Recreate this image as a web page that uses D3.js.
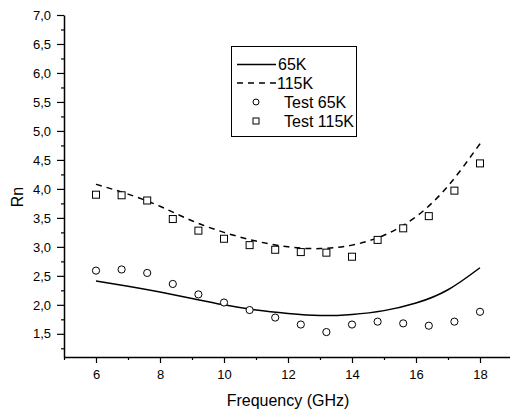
<!DOCTYPE html>
<html>
<head>
<meta charset="utf-8">
<script src="https://cdn.jsdelivr.net/npm/d3@7"></script>
<style>
  body { margin: 0; background: #fff; }
  svg { font-family: "Liberation Sans", Arial, sans-serif; }
</style>
</head>
<body>
<svg width="510" height="412"></svg>
<script>
// Measured test points (every 0.8 GHz)
var testFreq = [6, 6.8, 7.6, 8.4, 9.2, 10, 10.8, 11.6, 12.4, 13.2, 14, 14.8, 15.6, 16.4, 17.2, 18];
var test65K  = [2.59, 2.61, 2.55, 2.36, 2.18, 2.04, 1.91, 1.78, 1.66, 1.53, 1.66, 1.71, 1.68, 1.64, 1.71, 1.88];
var test115K = [3.90, 3.89, 3.80, 3.48, 3.28, 3.14, 3.03, 2.95, 2.91, 2.90, 2.83, 3.12, 3.32, 3.53, 3.97, 4.44];

// Model curves
var modelFreq = [6, 7, 8, 9, 10, 11, 12, 13, 14, 15, 16, 17, 18];
var model65K  = [2.41, 2.32, 2.22, 2.11, 2.00, 1.91, 1.85, 1.815, 1.835, 1.90, 2.03, 2.26, 2.64];
var model115K = [4.08, 3.91, 3.70, 3.45, 3.25, 3.10, 3.00, 2.97, 3.03, 3.20, 3.52, 4.05, 4.78];

var xTicks = [6, 8, 10, 12, 14, 16, 18];
var yTicks = [1.5, 2.0, 2.5, 3.0, 3.5, 4.0, 4.5, 5.0, 5.5, 6.0, 6.5, 7.0];

var svg = d3.select("svg");

var x = d3.scaleLinear().domain([5, 19]).range([64, 512]);
var y = d3.scaleLinear().domain([1.1, 7.0]).range([357, 15]);

var fmt = function(d) { return d3.format(".1f")(d).replace(".", ","); };

// minor ticks
var xMinor = d3.range(5, 20, 1).filter(function(d) { return xTicks.indexOf(d) < 0; });
var yMinor = d3.range(1.25, 7.0, 0.5);

svg.append("g")
    .attr("transform", "translate(0,357)")
    .call(d3.axisBottom(x).tickValues(xMinor).tickSize(3).tickSizeOuter(0).tickFormat(""))
    .call(function(g) { g.select(".domain").remove(); });

svg.append("g")
    .attr("transform", "translate(64,0)")
    .call(d3.axisLeft(y).tickValues(yMinor).tickSize(3).tickSizeOuter(0).tickFormat(""))
    .call(function(g) { g.select(".domain").remove(); });

var gx = svg.append("g")
    .attr("transform", "translate(0,357)")
    .call(d3.axisBottom(x).tickValues(xTicks).tickSize(6).tickSizeOuter(0).tickPadding(7));
gx.selectAll("text").attr("font-size", 13).attr("fill", "#000").attr("font-family", "Liberation Sans, Arial, sans-serif");

var gy = svg.append("g")
    .attr("transform", "translate(64,0)")
    .call(d3.axisLeft(y).tickValues(yTicks).tickFormat(fmt).tickSize(7).tickSizeOuter(0).tickPadding(6));
gy.selectAll("text").attr("font-size", 13).attr("fill", "#000").attr("font-family", "Liberation Sans, Arial, sans-serif");

svg.selectAll(".domain").attr("stroke-width", 1.5);
svg.selectAll(".tick line").attr("stroke-width", 1.2);

// axis titles
svg.append("text")
    .attr("x", 288).attr("y", 406)
    .attr("text-anchor", "middle")
    .attr("font-size", 16)
    .text("Frequency (GHz)");

svg.append("text")
    .attr("transform", "translate(23,197) rotate(-90)")
    .attr("text-anchor", "middle")
    .attr("font-size", 16)
    .text("Rn");

// model lines
var line = d3.line()
    .x(function(d) { return x(d[0]); })
    .y(function(d) { return y(d[1]); })
    .curve(d3.curveNatural);

svg.append("path")
    .datum(d3.zip(modelFreq, model65K))
    .attr("d", line)
    .attr("fill", "none").attr("stroke", "#000").attr("stroke-width", 1.5);

svg.append("path")
    .datum(d3.zip(modelFreq, model115K))
    .attr("d", line)
    .attr("fill", "none").attr("stroke", "#000").attr("stroke-width", 1.5)
    .attr("stroke-dasharray", "6,5");

// test points
svg.append("g").selectAll("circle")
    .data(d3.zip(testFreq, test65K))
    .enter().append("circle")
    .attr("cx", function(d) { return x(d[0]); })
    .attr("cy", function(d) { return y(d[1]); })
    .attr("r", 3.6)
    .attr("fill", "#fff").attr("stroke", "#000").attr("stroke-width", 1);

svg.append("g").selectAll("rect")
    .data(d3.zip(testFreq, test115K))
    .enter().append("rect")
    .attr("x", function(d) { return x(d[0]) - 3.5; })
    .attr("y", function(d) { return y(d[1]) - 3.5; })
    .attr("width", 7).attr("height", 7)
    .attr("fill", "#fff").attr("stroke", "#000").attr("stroke-width", 1);

// legend
var lg = svg.append("g");
lg.append("rect")
    .attr("x", 231.5).attr("y", 46.5).attr("width", 125).attr("height", 90)
    .attr("fill", "#fff").attr("stroke", "#000").attr("stroke-width", 1);

lg.append("line").attr("x1", 237).attr("x2", 276).attr("y1", 64.5).attr("y2", 64.5)
    .attr("stroke", "#000").attr("stroke-width", 1.5);
lg.append("line").attr("x1", 237).attr("x2", 276).attr("y1", 83).attr("y2", 83)
    .attr("stroke", "#000").attr("stroke-width", 1.5).attr("stroke-dasharray", "6,5");
lg.append("circle").attr("cx", 256).attr("cy", 102).attr("r", 3)
    .attr("fill", "#fff").attr("stroke", "#000");
lg.append("rect").attr("x", 253).attr("y", 118).attr("width", 6).attr("height", 6)
    .attr("fill", "#fff").attr("stroke", "#000");

var legendLabels = ["65K", "115K", "Test 65K", "Test 115K"];
var legendX = [278, 277, 284, 284];
var legendY = [64.5, 83, 102, 121];
legendLabels.forEach(function(t, i) {
    lg.append("text")
        .attr("x", legendX[i]).attr("y", legendY[i])
        .attr("dy", "0.36em")
        .attr("font-size", 16)
        .text(t);
});
</script>
</body>
</html>
